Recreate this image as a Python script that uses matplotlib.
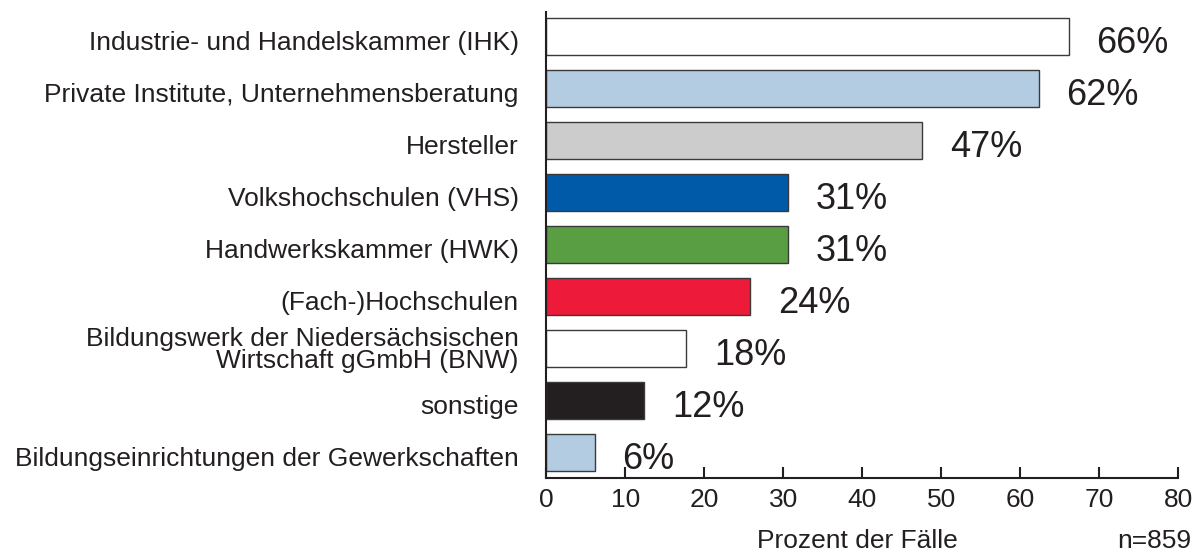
import matplotlib.pyplot as plt
from matplotlib.transforms import ScaledTranslation

plt.rcParams["font.family"] = ["Liberation Sans", "DejaVu Sans"]

# categories top to bottom
categories = [
    "Industrie- und Handelskammer (IHK)",
    "Private Institute, Unternehmensberatung",
    "Hersteller",
    "Volkshochschulen (VHS)",
    "Handwerkskammer (HWK)",
    "(Fach-)Hochschulen",
    "Bildungswerk der Niedersächsischen\nWirtschaft gGmbH (BNW)",
    "sonstige",
    "Bildungseinrichtungen der Gewerkschaften",
]
# bar lengths as drawn in the picture
values = [66.1, 62.3, 47.6, 30.6, 30.6, 25.8, 17.7, 12.4, 6.1]
value_labels = ["66%", "62%", "47%", "31%", "31%", "24%", "18%", "12%", "6%"]
colors = ["#ffffff", "#b3cce2", "#cccccc", "#005aa8", "#5a9e44",
          "#ed1a3a", "#ffffff", "#231f20", "#b3cce2"]
x_ticks = [0, 10, 20, 30, 40, 50, 60, 70, 80]

INK = "#231f20"

fig = plt.figure(figsize=(11.97, 5.54), dpi=100)
ax = fig.add_axes([0.4565, 0.137, 0.528, 0.841])

ypos = list(range(len(categories)))
ax.barh(ypos, values, height=0.71, color=colors, edgecolor="#3a3a3a", linewidth=1.0)

# value labels right of the bars
for y, v, lab in zip(ypos, values, value_labels):
    ax.annotate(lab, (v, y), xytext=(20, -5), textcoords="offset points",
                ha="left", va="center", fontsize=26, color=INK)

ax.set_xlim(0, 80)
ax.set_ylim(8.49, -0.47)
ax.set_xticks(x_ticks)
ax.set_yticks(ypos)
ax.set_yticklabels(categories, fontsize=19, color=INK, linespacing=0.9)
ax.tick_params(axis="y", length=0, pad=20)
ax.tick_params(axis="x", direction="in", length=8, width=1.5, color=INK,
               labelsize=19, labelcolor=INK, pad=7)

# shift single-line y labels a little down like the original
shift = ScaledTranslation(0, -3 / 72, fig.dpi_scale_trans)
for t in ax.get_yticklabels():
    if "\n" not in t.get_text():
        t.set_transform(t.get_transform() + shift)

for s in ["top", "right"]:
    ax.spines[s].set_visible(False)
for s in ["left", "bottom"]:
    ax.spines[s].set_linewidth(1.5)
    ax.spines[s].set_color(INK)

fig.text(0.716, 0.011, "Prozent der Fälle", ha="center", va="baseline",
         fontsize=19, color=INK)
fig.text(0.995, 0.011, "n=859", ha="right", va="baseline", fontsize=19, color=INK)

fig.savefig("out.png", dpi=100)
